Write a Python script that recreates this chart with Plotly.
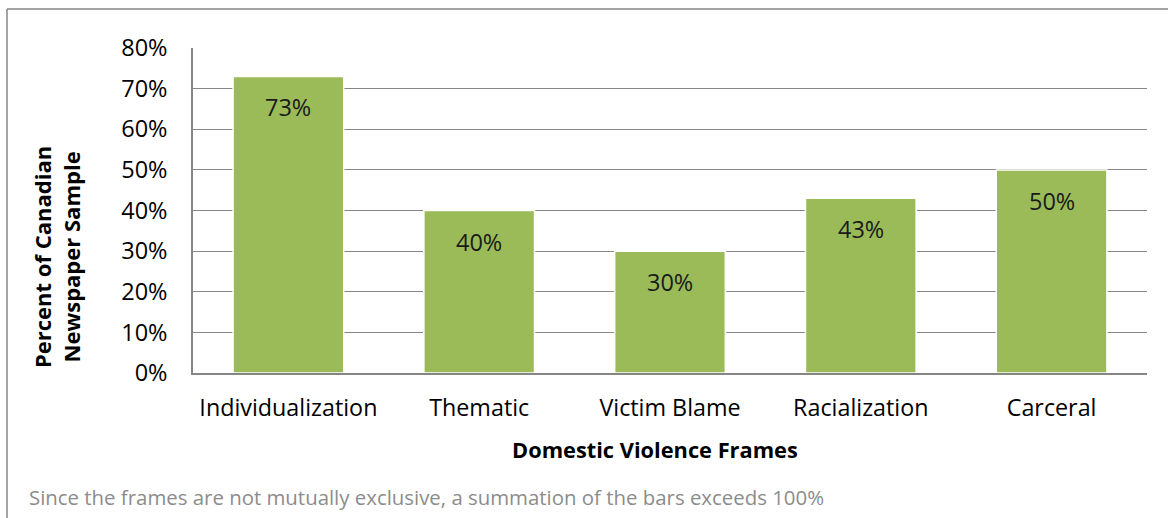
import plotly.graph_objects as go

# Share of the newspaper sample that uses each framing
frames = ["Individualization", "Thematic", "Victim Blame", "Racialization", "Carceral"]
shares = [0.73, 0.40, 0.30, 0.43, 0.50]
y_ticks = [0, 0.1, 0.2, 0.3, 0.4, 0.5, 0.6, 0.7, 0.8]

W, H = 1168, 518
L, R, T, B = 193, 21, 48, 145
pw, ph = W - L - R, H - T - B

def px_x(px):
    return (px - L) / pw

def px_y(py):
    return (H - B - py) / ph

FONT = "Open Sans"
GRID = "#868686"

fig = go.Figure()
fig.add_trace(go.Bar(
    x=frames,
    y=shares,
    marker=dict(color="#9BBB59", line=dict(color="white", width=1.5)),
    width=0.58,
    hoverinfo="skip",
))

# value labels near the top of each bar
for f, v in zip(frames, shares):
    fig.add_annotation(
        x=f, y=v, xref="x", yref="y",
        text=f"{round(v * 100)}%",
        showarrow=False, xanchor="center", yanchor="middle", yshift=-31,
        font=dict(family=FONT, size=23.5, color="#1a1a1a"),
    )

# y axis title (two lines)
fig.add_annotation(
    x=px_x(56), y=px_y(257), xref="paper", yref="paper",
    xanchor="center", yanchor="middle",
    text="<b>Percent of Canadian<br>Newspaper Sample</b>",
    textangle=-90, showarrow=False,
    font=dict(family=FONT, size=22, color="black"),
)

# x axis title
fig.add_annotation(
    x=px_x(655), y=px_y(449), xref="paper", yref="paper",
    xanchor="center", yanchor="middle",
    text="<b>Domestic Violence Frames</b>",
    showarrow=False,
    font=dict(family=FONT, size=21.8, color="black"),
)

# footnote
fig.add_annotation(
    x=px_x(27), y=px_y(497), xref="paper", yref="paper",
    xanchor="left", yanchor="middle",
    text="Since the frames are not mutually exclusive, a summation of the bars exceeds 100%",
    showarrow=False,
    font=dict(family=FONT, size=20.4, color="#8c8c8c"),
)

# outer frame (top and left edges)
fig.add_shape(type="line", xref="paper", yref="paper",
              x0=px_x(7), y0=px_y(9), x1=px_x(1170), y1=px_y(9),
              line=dict(color=GRID, width=1.5))
fig.add_shape(type="line", xref="paper", yref="paper",
              x0=px_x(7), y0=px_y(9), x1=px_x(7), y1=px_y(520),
              line=dict(color=GRID, width=1.5))

fig.update_layout(
    width=W, height=H,
    margin=dict(l=L, r=R, t=T, b=B),
    paper_bgcolor="white", plot_bgcolor="white",
    showlegend=False,
    font=dict(family=FONT, size=23, color="black"),
    xaxis=dict(
        showgrid=False, showline=True, linecolor=GRID, linewidth=1.5,
        ticks="", tickfont=dict(family=FONT, size=23.3, color="black"),
        ticklabelstandoff=13,
    ),
    yaxis=dict(
        range=[0, 0.8], tickvals=y_ticks, tickformat=".0%",
        showgrid=True, gridcolor=GRID, gridwidth=1.2,
        showline=True, linecolor=GRID, linewidth=1.5,
        zeroline=False, ticks="",
        tickfont=dict(family=FONT, size=23.5, color="black"),
        ticklabelstandoff=19,
    ),
)

fig.write_html("out.html")
